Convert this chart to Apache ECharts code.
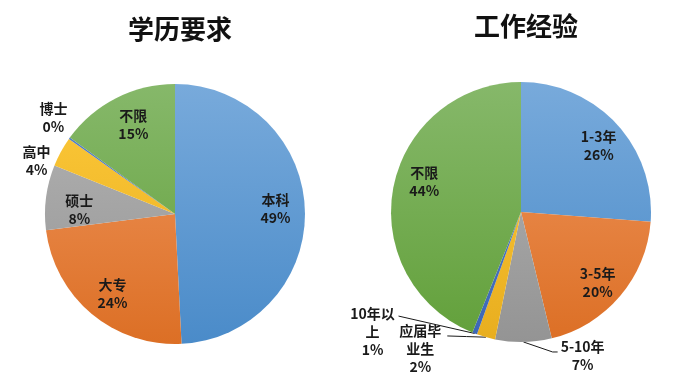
<!DOCTYPE html>
<html><head><meta charset="utf-8">
<script src="https://cdn.jsdelivr.net/npm/echarts@6/dist/echarts.min.js"></script>
<style>html,body{margin:0;padding:0;background:#fff}#c{width:692px;height:379px}</style>
</head><body><div id="c"></div>
<script>
// ---- data ----
const eduTitle = '学历要求';
const eduNames = ['本科', '大专', '硕士', '高中', '博士', '不限'];
const eduValues = [49.2, 23.8, 8.1, 3.7, 0.2, 15.0];
const expTitle = '工作经验';
const expNames = ['1-3年', '3-5年', '5-10年', '应届毕业生', '10年以上', '不限'];
const expValues = [26.2, 20.0, 7.0, 2.3, 0.6, 43.9];
const eduOutside = ['高中', '博士'];
const expOutside = ['5-10年', '应届毕业生', '10年以上'];

// ---- style ----
const FONT = '"Noto Sans CJK SC", "Noto Sans", sans-serif';
const palette = [
  ['#78aadb', '#4a8bc9'],
  ['#f0975f', '#dc6f25'],
  ['#b4b4b4', '#949494'],
  ['#fdc93a', '#e8ae1f'],
  ['#5a84cc', '#3c66b5'],
  ['#86b86a', '#62a03a']
];
const R = 130;
const LH = 18;
function grad(i, cy) {
  return new echarts.graphic.LinearGradient(0, cy - R, 0, cy + R,
    [{offset: 0, color: palette[i][0]}, {offset: 1, color: palette[i][1]}], true);
}
const fmt = p => p.name + '\n' + Math.round(p.value) + '%';
const labelBase = {color: '#1a1a1a', fontFamily: FONT, fontSize: 14, lineHeight: LH, fontWeight: 600, formatter: fmt};

// label placement tuning (style only)
const lineTune = {
  '高中': {length: 6, length2: 6, show: false},
  '博士': {length: 22, length2: 4, show: false},
  '5-10年': {length: 10, length2: 30, show: true},
  '应届毕业生': {length: 6, length2: 36, show: true, width: 46},
  '10年以上': {length: 6, length2: 78, show: true, width: 46}
};
const nudge = {
  '高中': {center: 'right', dx: 6, dy: 12},
  '博士': {center: 'right', dx: 25, dy: -8},
  '5-10年': {center: 'left', dx: 2, dy: 4, guide: 'left'},
  '应届毕业生': {center: 'right', dx: 0, dy: 6, guide: 'right', gx: 27, gy: 5},
  '10年以上': {center: 'right', dx: 6, dy: -7, guide: 'right', gx: 26, gy: 2},
  '硕士': {dx: 4, dy: 9},
  '本科': {dy: -3},
  '大专': {dx: 2, dy: 3},
  '不限@0': {dx: 4},
  '1-3年': {dx: 4, dy: 2},
  '3-5年': {dy: 6},
  '不限@1': {dx: 2, dy: -11}
};
function makeLayout(names, key) {
  return function (p) {
    const n = names[p.dataIndex];
    const t = nudge[n + '@' + key] || nudge[n];
    if (!t) return {};
    const r = p.labelRect;
    const o = {};
    let dx = t.dx || 0;
    if (t.center) { o.align = 'center'; dx += (t.center === 'right' ? -r.width / 2 : r.width / 2); }
    if (dx) o.dx = dx;
    if (t.dy) o.dy = t.dy;
    if (t.guide && p.labelLinePoints) {
      const bx = r.x + (t.dx || 0), by = r.y + (t.dy || 0);
      const start = p.labelLinePoints[0];
      let end, mid;
      if (t.guide === 'right') {
        end = [bx + r.width / 2 + t.gx, by + LH / 2 + t.gy];
        mid = [(start[0] + end[0]) / 2, (start[1] + end[1]) / 2];
        o.labelLinePoints = [start, mid, end];
      } else {
        end = [bx - 3, by + LH / 2 + 5];
        mid = [end[0] - 5, end[1]];
        o.labelLinePoints = [start, mid, end];
      }
    }
    return o;
  };
}

function mainSeries(names, values, outside, cx, cy, key) {
  return {
    type: 'pie', center: [cx, cy], radius: R, startAngle: 90, clockwise: true,
    avoidLabelOverlap: false, silent: true, minShowLabelAngle: 0,
    itemStyle: {borderWidth: 0},
    labelLine: {lineStyle: {color: '#1a1a1a', width: 1}, smooth: false},
    labelLayout: makeLayout(names, key),
    data: names.map((n, i) => {
      const out = outside.indexOf(n) >= 0;
      const t = lineTune[n] || {};
      const lab = Object.assign({}, labelBase, {show: true, position: 'outside'});
      if (t.width) { lab.width = t.width; lab.overflow = 'break'; }
      return {
        name: n, value: values[i],
        itemStyle: {color: grad(i, cy)},
        label: out ? lab : {show: false},
        labelLine: out ? {show: t.show, length: t.length, length2: t.length2} : {show: false}
      };
    })
  };
}
function insideSeries(names, values, outside, cx, cy, key) {
  return {
    type: 'pie', center: [cx, cy], radius: R * 1.5, startAngle: 90, clockwise: true,
    silent: true, avoidLabelOverlap: false,
    itemStyle: {color: 'rgba(0,0,0,0)', borderWidth: 0},
    labelLine: {show: false},
    labelLayout: makeLayout(names, key),
    data: names.map((n, i) => ({
      name: n, value: values[i],
      label: outside.indexOf(n) >= 0 ? {show: false} : Object.assign({}, labelBase, {show: true, position: 'inside'})
    }))
  };
}

const chart = echarts.init(document.getElementById('c'), null, {renderer: 'canvas'});
chart.setOption({
  backgroundColor: '#ffffff',
  animation: false,
  title: [
    {text: eduTitle, left: 175, top: 11, textAlign: 'center', textStyle: {fontFamily: FONT, fontSize: 26, fontWeight: 'bold', color: '#111'}},
    {text: expTitle, left: 521, top: 8, textAlign: 'center', textStyle: {fontFamily: FONT, fontSize: 26, fontWeight: 'bold', color: '#111'}}
  ],
  series: [
    mainSeries(eduNames, eduValues, eduOutside, 175, 214, 0),
    insideSeries(eduNames, eduValues, eduOutside, 175, 214, 0),
    mainSeries(expNames, expValues, expOutside, 521, 212, 1),
    insideSeries(expNames, expValues, expOutside, 521, 212, 1)
  ],
  graphic: [{
    type: 'group', left: 170, top: 112, z: 100,
    children: [
      {type: 'rect', shape: {x: 0, y: 0, width: 52, height: 22}, style: {fill: '#fbfbe2', stroke: '#cfcfcf', lineWidth: 1, shadowBlur: 2, shadowColor: 'rgba(0,0,0,0.2)'}},
      {type: 'text', x: 26, y: 11, style: {text: '图表区', fontFamily: FONT, fontSize: 15, fill: '#222', align: 'center', verticalAlign: 'middle'}}
    ]
  }]
});
</script>
</body></html>
